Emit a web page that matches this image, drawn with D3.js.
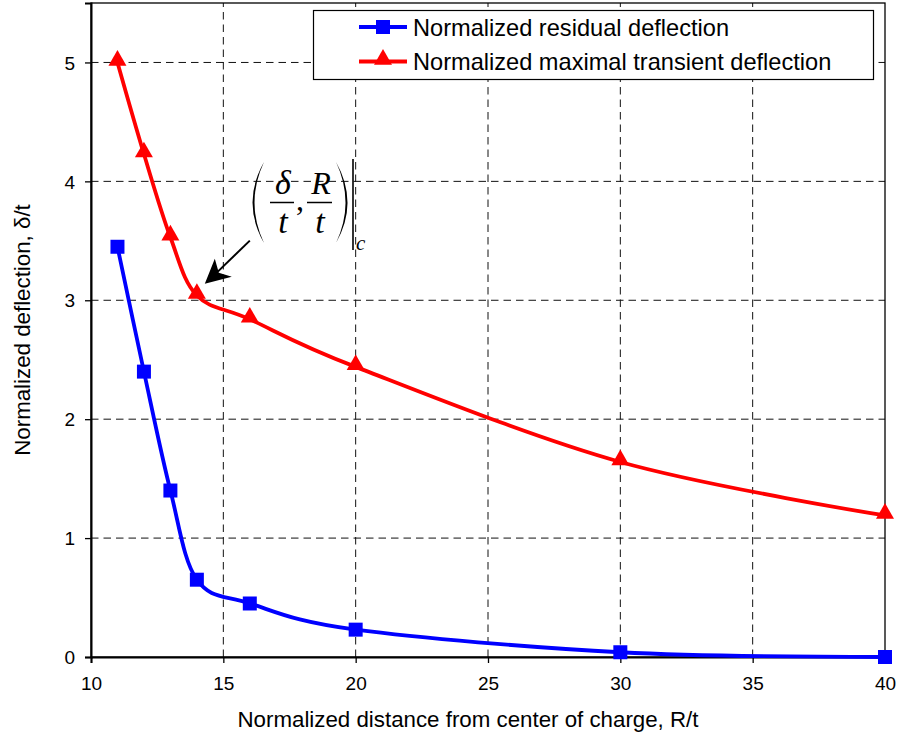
<!DOCTYPE html>
<html>
<head>
<meta charset="utf-8">
<script src="https://cdn.jsdelivr.net/npm/d3@7"></script>
<style>
  html, body { margin: 0; padding: 0; background: #fff; }
  svg { display: block; }
</style>
</head>
<body>
<svg id="chart" width="899" height="744"></svg>
<script>
// ---- data ----
const xValues = [11, 12, 13, 14, 16, 20, 30, 40];
const residual = [3.45, 2.40, 1.40, 0.65, 0.45, 0.23, 0.04, 0.00];
const transient = [5.00, 4.23, 3.53, 3.04, 2.84, 2.44, 1.64, 1.19];
const xTicks = [10, 15, 20, 25, 30, 35, 40];
const yTicks = [0, 1, 2, 3, 4, 5];
const seriesNames = ["Normalized residual deflection", "Normalized maximal transient deflection"];
const xTitle = "Normalized distance from center of charge, R/t";
const yTitle = "Normalized deflection, \u03B4/t";
const annotationPoint = [14.3, 3.14];

// ---- layout ----
const W = 899, H = 744;
const margin = { left: 91, top: 3, right: 14, bottom: 87 };
const svg = d3.select("#chart");
const x = d3.scaleLinear().domain([10, 40]).range([margin.left, W - margin.right]);
const y = d3.scaleLinear().domain([0, 5.5]).range([H - margin.bottom, margin.top]);
const font = "'Liberation Sans', Arial, sans-serif";
const serif = "'Liberation Serif', 'Times New Roman', serif";

// gridlines
const grid = svg.append("g").attr("stroke", "#111").attr("stroke-width", 1).attr("stroke-dasharray", "7.5,5");
grid.selectAll("line.v").data(xTicks.filter(d => d > 10 && d < 40)).enter().append("line")
  .attr("x1", d => x(d)).attr("x2", d => x(d)).attr("y1", y(0)).attr("y2", y(5.5));
grid.selectAll("line.h").data(yTicks.filter(d => d > 0)).enter().append("line")
  .attr("x1", x(10)).attr("x2", x(40)).attr("y1", d => y(d)).attr("y2", d => y(d));

// plot frame (top/right)
svg.append("rect").attr("x", x(10)).attr("y", y(5.5)).attr("width", x(40) - x(10)).attr("height", y(0) - y(5.5))
  .attr("fill", "none").attr("stroke", "#000").attr("stroke-width", 1.3);

// axes
const xAxis = svg.append("g").attr("transform", `translate(0,${y(0)})`)
  .call(d3.axisBottom(x).tickValues(xTicks).tickSize(6).tickPadding(14).tickFormat(d3.format("d")));
const yAxis = svg.append("g").attr("transform", `translate(${x(10)},0)`)
  .call(d3.axisLeft(y).tickValues(yTicks).tickSize(6).tickPadding(10).tickFormat(d3.format("d")));
[xAxis, yAxis].forEach(a => {
  a.select(".domain").attr("stroke", "#000").attr("stroke-width", 2);
  a.selectAll(".tick line").attr("stroke", "#000").attr("stroke-width", 1.3);
  a.selectAll("text").attr("font-family", font).attr("font-size", 19).attr("fill", "#000");
});
yAxis.selectAll("text").attr("dy", "0.35em");

// axis titles
svg.append("text").attr("x", (x(10) + x(40)) / 2 - 20).attr("y", 727).attr("text-anchor", "middle")
  .attr("font-family", font).attr("font-size", 22.3).text(xTitle);
svg.append("text").attr("transform", `translate(29.5,${(y(0) + y(5.5)) / 2}) rotate(-90)`)
  .attr("text-anchor", "middle").attr("font-family", font).attr("font-size", 22.3).text(yTitle);

// lines
const line = d3.line().x(d => x(d[0])).y(d => y(d[1])).curve(d3.curveCardinal.tension(0));
const resPts = xValues.map((v, i) => [v, residual[i]]);
const trPts = xValues.map((v, i) => [v, transient[i]]);
svg.append("path").datum(resPts).attr("d", line).attr("fill", "none").attr("stroke", "#0000ff").attr("stroke-width", 3.8);
svg.append("path").datum(trPts).attr("d", line).attr("fill", "none").attr("stroke", "#ff0000").attr("stroke-width", 3.8);

const sq = d3.symbol().type(d3.symbolSquare).size(196);
const tri = d3.symbol().type(d3.symbolTriangle).size(140);
svg.selectAll("path.sq").data(resPts).enter().append("path")
  .attr("transform", d => `translate(${x(d[0])},${y(d[1])})`).attr("d", sq).attr("fill", "#0000ff");
svg.selectAll("path.tri").data(trPts).enter().append("path")
  .attr("transform", d => `translate(${x(d[0])},${y(d[1]) - 2})`).attr("d", tri).attr("fill", "#ff0000");

// legend
const lg = svg.append("g");
lg.append("rect").attr("x", 313.5).attr("y", 10.5).attr("width", 560).attr("height", 69)
  .attr("fill", "#fff").attr("stroke", "#000").attr("stroke-width", 1.2);
const legendItems = [
  { name: seriesNames[0], color: "#0000ff", sym: sq, dy: 0 },
  { name: seriesNames[1], color: "#ff0000", sym: tri, dy: -2 }
];
legendItems.forEach((it, i) => {
  const cy = 27 + i * 34.5;
  lg.append("line").attr("x1", 359).attr("x2", 407).attr("y1", cy).attr("y2", cy)
    .attr("stroke", it.color).attr("stroke-width", 3.8);
  lg.append("path").attr("transform", `translate(383,${cy + it.dy})`).attr("d", it.sym).attr("fill", it.color);
  lg.append("text").attr("x", 413).attr("y", cy + 8.5).attr("font-family", font).attr("font-size", 23.6).text(it.name);
});

// annotation
const tip = [x(annotationPoint[0]), y(annotationPoint[1])];
const an = svg.append("g");
an.append("line").attr("x1", tip[0] + 45).attr("y1", tip[1] - 43).attr("x2", tip[0] + 13).attr("y2", tip[1] - 12)
  .attr("stroke", "#000").attr("stroke-width", 2);
an.append("path").attr("d",
  `M${tip[0]},${tip[1]} L${tip[0] + 10},${tip[1] - 25} L${tip[0] + 14},${tip[1] - 11} L${tip[0] + 27},${tip[1] - 7} Z`)
  .attr("fill", "#000");

// formula
an.append("path").attr("d", `M264,162 Q241,202.5 264,243 Q245,202.5 264,162 Z`).attr("fill", "#000");
an.append("path").attr("d", `M336,162 Q359,202.5 336,243 Q355,202.5 336,162 Z`).attr("fill", "#000");
an.append("text").attr("x", 283).attr("y", 194).attr("text-anchor", "middle").attr("font-family", serif)
  .attr("font-style", "italic").attr("font-size", 34).text("\u03B4");
an.append("line").attr("x1", 270).attr("x2", 294).attr("y1", 202.5).attr("y2", 202.5).attr("stroke", "#000").attr("stroke-width", 1.5);
an.append("text").attr("x", 283).attr("y", 233).attr("text-anchor", "middle").attr("font-family", serif)
  .attr("font-style", "italic").attr("font-size", 34).text("t");
an.append("text").attr("x", 296).attr("y", 210).attr("font-family", serif).attr("font-size", 32).text(",");
an.append("text").attr("x", 321).attr("y", 194).attr("text-anchor", "middle").attr("font-family", serif)
  .attr("font-style", "italic").attr("font-size", 32).text("R");
an.append("line").attr("x1", 307).attr("x2", 332).attr("y1", 202.5).attr("y2", 202.5).attr("stroke", "#000").attr("stroke-width", 1.5);
an.append("text").attr("x", 320).attr("y", 233).attr("text-anchor", "middle").attr("font-family", serif)
  .attr("font-style", "italic").attr("font-size", 34).text("t");
an.append("line").attr("x1", 353).attr("x2", 353).attr("y1", 159).attr("y2", 250).attr("stroke", "#000").attr("stroke-width", 1.6);
an.append("text").attr("x", 356).attr("y", 250).attr("font-family", serif).attr("font-style", "italic")
  .attr("font-size", 21).text("c");
</script>
</body>
</html>
